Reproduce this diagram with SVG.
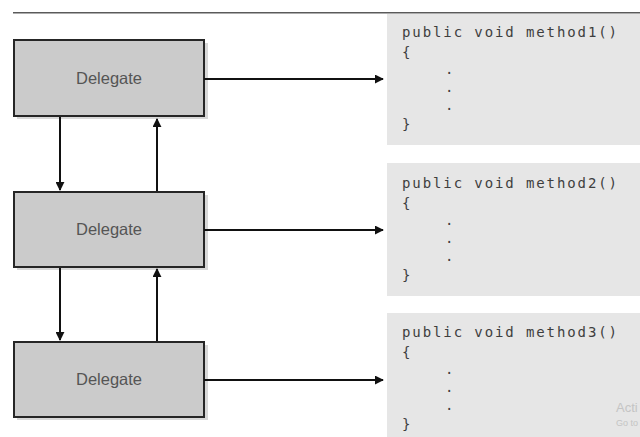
<svg xmlns="http://www.w3.org/2000/svg" width="640" height="437" viewBox="0 0 640 437">
  <defs>
    <marker id="arrow" viewBox="0 0 10 10" refX="9" refY="5" markerWidth="4.5" markerHeight="4.5" orient="auto" markerUnits="strokeWidth">
      <path d="M0,0 L10,5 L0,10 z" fill="#111"/>
    </marker>
    <style>
      .shadow { fill: #d8d8d8; }
      .box { fill: #cbcbcb; stroke: #262626; stroke-width: 2; }
      .label { font-family: "Liberation Sans", Arial, sans-serif; font-size: 16.5px; fill: #555; text-anchor: middle; }
      .code-bg { fill: #e6e6e6; }
      .code { font-family: "DejaVu Sans Mono", "Liberation Mono", monospace; font-size: 14px; letter-spacing: 1.9px; fill: #3e3e3e; }
      .conn { stroke: #111; stroke-width: 2; fill: none; marker-end: url(#arrow); }
      .wm { font-family: "Liberation Sans", Arial, sans-serif; fill: #c4c4c4; }
    </style>
  </defs>

  <rect width="640" height="437" fill="#ffffff"/>

  <!-- header rule -->
  <line x1="13" y1="12.7" x2="640" y2="12.7" stroke="#5a5a5a" stroke-width="1.5"/>

  <!-- delegate chain -->
  <g id="delegate1">
    <rect class="shadow" x="17" y="43" width="191" height="76"/>
    <rect class="box" x="14" y="40" width="190" height="76"/>
    <text class="label" x="109" y="84">Delegate</text>
  </g>
  <g id="delegate2">
    <rect class="shadow" x="17" y="195" width="191" height="75"/>
    <rect class="box" x="14" y="192" width="190" height="75"/>
    <text class="label" x="109" y="235">Delegate</text>
  </g>
  <g id="delegate3">
    <rect class="shadow" x="17" y="345" width="191" height="75"/>
    <rect class="box" x="14" y="342" width="190" height="75"/>
    <text class="label" x="109" y="385">Delegate</text>
  </g>

  <!-- method bodies -->
  <g id="method1">
    <rect class="code-bg" x="387" y="14" width="253" height="131"/>
    <text class="code" x="402" y="37">public void method1()</text>
    <text class="code" x="402" y="57">{</text>
    <text class="code" x="445" y="74">.</text>
    <text class="code" x="445" y="92">.</text>
    <text class="code" x="445" y="110">.</text>
    <text class="code" x="402" y="129">}</text>
  </g>
  <g id="method2">
    <rect class="code-bg" x="387" y="163" width="253" height="133"/>
    <text class="code" x="402" y="188">public void method2()</text>
    <text class="code" x="402" y="208">{</text>
    <text class="code" x="445" y="225">.</text>
    <text class="code" x="445" y="243">.</text>
    <text class="code" x="445" y="261">.</text>
    <text class="code" x="402" y="280">}</text>
  </g>
  <g id="method3">
    <rect class="code-bg" x="387" y="313" width="253" height="124"/>
    <text class="code" x="402" y="337">public void method3()</text>
    <text class="code" x="402" y="357">{</text>
    <text class="code" x="445" y="374">.</text>
    <text class="code" x="445" y="392">.</text>
    <text class="code" x="445" y="410">.</text>
    <text class="code" x="402" y="429">}</text>
    <text class="wm" x="616" y="412" font-size="13">Acti</text>
    <text class="wm" x="616" y="426" font-size="9">Go to</text>
  </g>

  <!-- connectors -->
  <g id="connectors">
    <line class="conn" x1="204" y1="79" x2="383" y2="79"/>
    <line class="conn" x1="204" y1="230" x2="383" y2="230"/>
    <line class="conn" x1="204" y1="380" x2="383" y2="380"/>
    <line class="conn" x1="60" y1="117" x2="60" y2="190"/>
    <line class="conn" x1="157" y1="191" x2="157" y2="119"/>
    <line class="conn" x1="60" y1="268" x2="60" y2="340"/>
    <line class="conn" x1="157" y1="341" x2="157" y2="269"/>
  </g>
</svg>
